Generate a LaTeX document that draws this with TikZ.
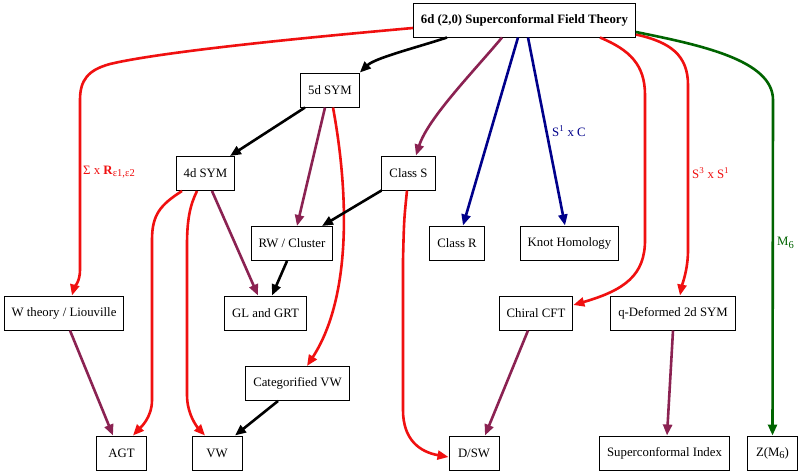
\documentclass[tikz,border=0pt]{standalone}
\usepackage{fontspec}
\setmainfont{Liberation Serif}
\usepackage{tikz}
\usetikzlibrary{arrows.meta}

\definecolor{flowred}{RGB}{240,16,16}
\definecolor{flowmaroon}{RGB}{139,34,82}
\definecolor{flownavy}{RGB}{0,0,139}
\definecolor{flowgreen}{RGB}{0,100,0}

\newcommand{\diagfont}{\fontsize{12.8pt}{15pt}\selectfont}
\newcommand{\lowtext}[1]{\raisebox{-0.45ex}{\fontsize{10.5pt}{11pt}\selectfont #1}}

\tikzset{
    theory/.style={draw, line width=1pt, fill=white, inner xsep=7.5pt,
        minimum width=50pt, minimum height=34pt, font=\diagfont},
    flow/.style={line width=2.6pt, -{Triangle[length=11pt,width=9pt]}},
    flowlabel/.style={font=\diagfont, anchor=west, inner sep=0pt},
}

\begin{document}
\begin{tikzpicture}[x=1pt, y=-1pt]
    \fill[white] (0,0) rectangle (800,474);
    \useasboundingbox (0,0) rectangle (800,474);

    \node[theory] (top) at (524.5,20) {\textbf{6d (2,0) Superconformal Field Theory}};
    \node[theory] (sym5) at (330,90) {5d SYM};
    \node[theory] (sym4) at (205.5,173.5) {4d SYM};
    \node[theory] (classS) at (408.5,173) {Class S};
    \node[theory] (rwcluster) at (292,243.5) {RW / Cluster};
    \node[theory] (classR) at (457,243) {Class R};
    \node[theory] (knot) at (569.5,243) {Knot Homology};
    \node[theory] (wtheory) at (64,313) {W theory / Liouville};
    \node[theory] (glgrt) at (265.5,313) {GL and GRT};
    \node[theory] (chiral) at (536,313) {Chiral CFT};
    \node[theory] (qdef) at (673,313) {q-Deformed 2d SYM};
    \node[theory] (catvw) at (297.5,383.5) {Categorified VW};
    \node[theory] (agt) at (121.5,453) {AGT};
    \node[theory] (vw) at (217,453) {VW};
    \node[theory] (dsw) at (474,453) {D/SW};
    \node[theory] (scindex) at (664.5,453) {Superconformal Index};
    \node[theory] (zm) at (772.5,453) {Z(M\lowtext{6})};

    % from the 6d theory
    \draw[flow, flowred] ([yshift=-8pt]top.west) .. controls (300,38) and (160,52) .. (110,64)
        .. controls (88,70) and (80,80) .. (80,100) -- (80,270)
        .. controls (80,282) and (74,288) .. ([xshift=8pt]wtheory.north);
    \draw[flow] ([xshift=-77.5pt]top.south) .. controls (415,48) and (375,58) .. (sym5.north east);
    \draw[flow, flowmaroon] ([xshift=-22.5pt]top.south) .. controls (475,70) and (428,118) .. ([xshift=7.5pt]classS.north);
    \draw[flow, flownavy] ([xshift=-6.5pt]top.south) -- ([xshift=6pt]classR.north);
    \draw[flow, flownavy] ([xshift=3.5pt]top.south) -- ([xshift=-4.5pt]knot.north);
    \draw[flow, flowred] ([xshift=75.5pt]top.south) .. controls (630,50) and (645,65) .. (645,95)
        -- (645,240) .. controls (645,275) and (625,290) .. ([yshift=8pt]chiral.east);
    \draw[flow, flowred] ([yshift=3pt]top.south east) .. controls (670,42) and (688,55) .. (688,85)
        -- (688,250) .. controls (688,270) and (682,285) .. ([xshift=7pt]qdef.north);
    \draw[flow, flowgreen] ([yshift=-12pt]top.east) .. controls (700,45) and (773,60) .. (773,100)
        -- (zm.north);

    \node[flowlabel, text=flowred] (lblsigma) at (83,172) {Σ x \textbf{R}\lowtext{ε1,ε2}};
    \node[flowlabel, text=flownavy] (lblcircle) at (552,131) {S\textsuperscript{1} x C};
    \node[flowlabel, text=flowred] (lblsphere) at (692,173) {S\textsuperscript{3} x S\textsuperscript{1}};
    \node[flowlabel, text=flowgreen] (lblsix) at (777,243) {M\lowtext{6}};

    % lower levels
    \draw[flow] ([xshift=-25pt]sym5.south) -- ([xshift=24.5pt]sym4.north);
    \draw[flow, flowmaroon] ([xshift=-5pt]sym5.south) -- ([xshift=5pt]rwcluster.north);
    \draw[flow, flowred] ([xshift=3pt]sym5.south) .. controls (350,200) and (350,300) .. ([xshift=9.5pt]catvw.north);
    \draw[flow, flowmaroon] ([xshift=6.5pt]sym4.south) -- ([xshift=-7.5pt]glgrt.north);
    \draw[flow, flowred] ([xshift=-23.5pt]sym4.south) .. controls (160,205) and (152,215) .. (152,240)
        -- (152,400) .. controls (152,418) and (140,428) .. ([xshift=11.5pt]agt.north);
    \draw[flow, flowred] ([xshift=-8.5pt]sym4.south) .. controls (190,205) and (187,220) .. (187,245)
        -- (187,395) .. controls (187,415) and (198,428) .. ([xshift=-12pt]vw.north);
    \draw[flow] (classS.south west) -- ([xshift=30pt]rwcluster.north);
    \draw[flow, flowred] ([xshift=-1.5pt]classS.south) .. controls (404,220) .. (403,260)
        -- (403,410) .. controls (403,440) and (420,452) .. ([yshift=-4pt]dsw.west);
    \draw[flow] ([xshift=-5pt]rwcluster.south) -- ([xshift=6.5pt]glgrt.north);
    \draw[flow, flowmaroon] ([xshift=6pt]wtheory.south) -- ([xshift=-8.5pt]agt.north);
    \draw[flow] ([xshift=-19.5pt]catvw.south) -- ([xshift=18pt]vw.north);
    \draw[flow, flowmaroon] ([xshift=-8pt]chiral.south) -- ([xshift=11pt]dsw.north);
    \draw[flow, flowmaroon] (qdef.south) -- ([xshift=2.5pt]scindex.north);
\end{tikzpicture}
\end{document}
